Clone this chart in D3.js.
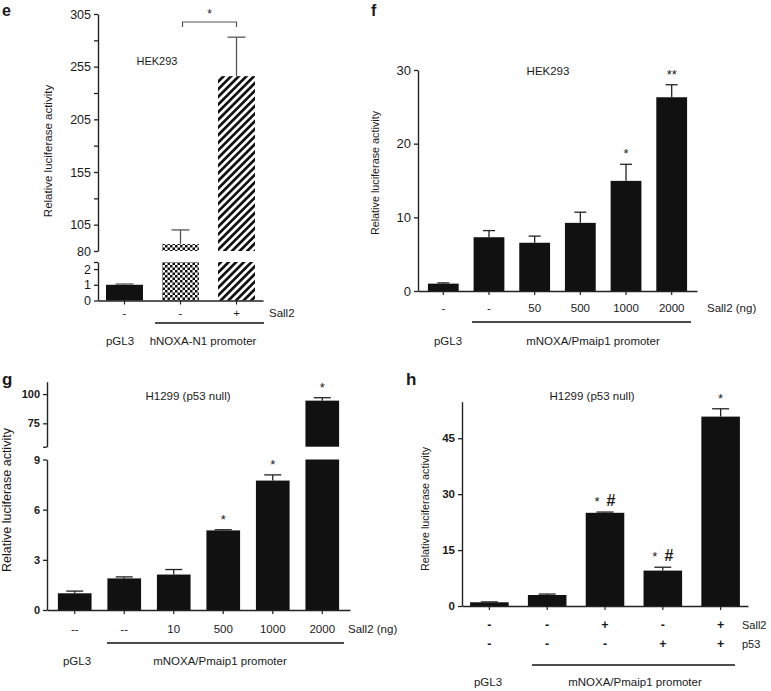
<!DOCTYPE html>
<html><head><meta charset="utf-8">
<script src="https://cdn.jsdelivr.net/npm/d3@7"></script>
<style>
body{margin:0;background:#fff}
text{font-family:Arial,"Liberation Sans",sans-serif;fill:#1a1a1a}
</style>
</head><body>
<svg id="c" width="771" height="691"></svg>
<script>
// ---------------- DATA ----------------
// Panel e (HEK293, hNOXA-N1 promoter)
const eCategories = ["-", "-", "+"];
const eValues = [1.0, 86.6, 246];
const eErrors = [0.05, 13.4, 37];
const eUpperTicks = [80, 105, 130, 155, 180, 205, 230, 255, 280, 305];
const eUpperLabels = [80, 105, 155, 205, 255, 305];
const eLowerTicks = [0, 1, 2];

// Panel f (HEK293, mNOXA/Pmaip1 promoter)
const fCategories = ["-", "-", "50", "500", "1000", "2000"];
const fValues = [1.0, 7.3, 6.55, 9.25, 14.95, 26.3];
const fErrors = [0.1, 0.9, 0.9, 1.45, 2.25, 1.7];
const fSignif = ["", "", "", "", "*", "**"];
const fTicks = [0, 10, 20, 30];

// Panel g (H1299, p53 null)
const gCategories = ["--", "--", "10", "500", "1000", "2000"];
const gValues = [1.0, 1.89, 2.12, 4.76, 7.74, 94.4];
const gErrors = [0.13, 0.09, 0.3, 0.04, 0.34, 2.5];
const gSignif = ["", "", "", "*", "*", "*"];
const gUpperTicks = [75, 100];
const gLowerTicks = [0, 3, 6, 9];

// Panel h (H1299, p53 null)
const hSall2 = ["-", "-", "+", "-", "+"];
const hP53 = ["-", "-", "-", "+", "+"];
const hValues = [1.0, 2.95, 25.0, 9.5, 50.8];
const hErrors = [0.1, 0.25, 0.2, 0.9, 2.1];
const hSignif = ["", "", "* #", "* #", "*"];
const hTicks = [0, 15, 30, 45];

// ---------------- DRAWING ----------------
const svg = d3.select("#c");
const defs = svg.append("defs");
const chk = defs.append("pattern").attr("id","checker").attr("patternUnits","userSpaceOnUse")
  .attr("width",5).attr("height",5);
chk.append("rect").attr("width",5).attr("height",5).attr("fill","#fff");
chk.append("rect").attr("width",2.5).attr("height",2.5).attr("fill","#111");
chk.append("rect").attr("x",2.5).attr("y",2.5).attr("width",2.5).attr("height",2.5).attr("fill","#111");
const hat = defs.append("pattern").attr("id","hatch").attr("patternUnits","userSpaceOnUse")
  .attr("width",5.4).attr("height",10).attr("patternTransform","rotate(45)");
hat.append("rect").attr("width",5.4).attr("height",10).attr("fill","#fff");
hat.append("rect").attr("width",2.7).attr("height",10).attr("fill","#111");

const AX = "#222";

function leftAxis(g, scale, ticks, shown, x, fontSize, bold) {
  const ax = g.append("g").attr("transform", `translate(${x},0)`)
    .call(d3.axisLeft(scale).tickValues(ticks).tickSize(4).tickSizeOuter(0)
      .tickFormat(d => shown.includes(d) ? d : ""));
  ax.select(".domain").attr("stroke", AX).attr("stroke-width", 1.4);
  ax.selectAll(".tick line").attr("stroke", AX).attr("stroke-width", 1.3);
  ax.selectAll(".tick text").attr("font-size", fontSize).attr("font-family", "Arial, 'Liberation Sans', sans-serif")
    .attr("font-weight", bold ? "bold" : "normal").attr("fill", "#1a1a1a").attr("x", -7);
  return ax;
}
function bottomAxis(g, xs, y) {
  const ax = g.append("g").attr("transform", `translate(0,${y})`)
    .call(d3.axisBottom(xs).tickSize(4).tickSizeOuter(0).tickFormat(""));
  ax.select(".domain").attr("stroke", AX).attr("stroke-width", 1.4);
  ax.selectAll(".tick line").attr("stroke", AX).attr("stroke-width", 1.2);
}
function bars(g, vals, errs, xs, segs, fills, capW, errColor) {
  vals.forEach((v, i) => {
    segs.forEach(s => {
      if (v > s.lo) {
        const top = Math.min(v, s.hi);
        g.append("rect").attr("x", xs(i)).attr("width", xs.bandwidth())
          .attr("y", s.scale(top)).attr("height", s.scale(s.lo) - s.scale(top))
          .attr("fill", fills[i]);
      }
    });
    const seg = segs.find(s => v >= s.lo && v <= s.hi);
    const cx = xs(i) + xs.bandwidth() / 2;
    const y0 = seg.scale(v), y1 = seg.scale(v + errs[i]);
    g.append("line").attr("x1", cx).attr("x2", cx).attr("y1", y0).attr("y2", y1)
      .attr("stroke", errColor).attr("stroke-width", 1.3);
    g.append("line").attr("x1", cx - capW / 2).attr("x2", cx + capW / 2).attr("y1", y1).attr("y2", y1)
      .attr("stroke", errColor).attr("stroke-width", 1.3);
  });
}
function sig(g, vals, errs, xs, segs, labels, fs) {
  vals.forEach((v, i) => {
    if (!labels[i]) return;
    const seg = segs.find(s => v >= s.lo && v <= s.hi);
    const cx = xs(i) + xs.bandwidth() / 2;
    const t = g.append("text").attr("x", cx).attr("y", seg.scale(v + errs[i]) - 6)
      .attr("text-anchor", "middle").attr("font-size", fs);
    const parts = labels[i].split(" ");
    parts.forEach((p, k) => {
      const ts = t.append("tspan").text(p);
      if (k > 0) ts.attr("dx", 7).attr("font-size", fs + 3).attr("font-weight", "bold");
    });
  });
}
function txt(g, x, y, s, fs, anchor, weight) {
  return g.append("text").attr("x", x).attr("y", y).attr("font-size", fs)
    .attr("text-anchor", anchor || "middle").attr("font-weight", weight || "normal").text(s);
}
function ylabel(g, x, y, fs) {
  g.append("text").attr("transform", `translate(${x},${y}) rotate(-90)`)
    .attr("text-anchor", "middle").attr("dy", "0.35em").attr("font-size", fs)
    .attr("fill", "#333").text("Relative luciferase activity");
}
function xlabels(g, xs, cats, y, fs, weight) {
  cats.forEach((c, i) => txt(g, xs(i) + xs.bandwidth() / 2, y, c, fs, "middle", weight));
}
function hline(g, x1, x2, y) {
  g.append("line").attr("x1", x1).attr("x2", x2).attr("y1", y).attr("y2", y)
    .attr("stroke", "#111").attr("stroke-width", 1.6);
}

// ===== Panel e =====
const ge = svg.append("g");
const xE = d3.scaleBand().domain(d3.range(eValues.length)).range([98, 263]).paddingInner(0.34).paddingOuter(0.143);
const yEU = d3.scaleLinear().domain([80, 305]).range([251, 14]);
const yEL = d3.scaleLinear().domain([0, 2.45]).range([300.5, 262]);
const eSegs = [{scale: yEL, lo: 0, hi: 2.45}, {scale: yEU, lo: 80, hi: 400}];
bars(ge, eValues, eErrors, xE, eSegs, ["#111", "url(#checker)", "url(#hatch)"], 18, "#555");
leftAxis(ge, yEU, eUpperTicks, eUpperLabels, 98, 12.5, false);
leftAxis(ge, yEL, eLowerTicks.concat([2.45]), eLowerTicks, 98, 12.5, false);
bottomAxis(ge, xE, 300.5);
xlabels(ge, xE, eCategories, 317, 11.5);
txt(ge, 269, 317, "Sall2", 11.5, "start");
hline(ge, xE(1) - 7, xE(2) + xE.bandwidth() + 9, 323);
txt(ge, 120, 345, "pGL3", 11.5);
txt(ge, 203, 345, "hNOXA-N1 promoter", 11.5);
txt(ge, 157, 65, "HEK293", 11);
// bracket
const bx1 = xE(1) + xE.bandwidth() / 2 + 2, bx2 = xE(2) + xE.bandwidth() / 2;
ge.append("path").attr("d", `M${bx1},27V22H${bx2}V27`).attr("fill", "none").attr("stroke", "#555").attr("stroke-width", 1.2);
txt(ge, (bx1 + bx2) / 2, 18, "*", 12);
ylabel(ge, 48, 151, 11.5);
txt(ge, 2, 16, "e", 16, "start", "bold");

// ===== Panel f =====
const gf = svg.append("g");
const xF = d3.scaleBand().domain(d3.range(fValues.length)).range([418, 697]).paddingInner(0.326).paddingOuter(0.217);
const yF = d3.scaleLinear().domain([0, 30]).range([291, 70]);
const fSegs = [{scale: yF, lo: 0, hi: 100}];
bars(gf, fValues, fErrors, xF, fSegs, fValues.map(() => "#111"), 12, "#222");
leftAxis(gf, yF, fTicks, fTicks, 418, 13, false);
bottomAxis(gf, xF, 291);
xlabels(gf, xF, fCategories, 312, 11.5);
txt(gf, 707, 312, "Sall2 (ng)", 11.5, "start");
hline(gf, 472, 691, 322);
txt(gf, 448, 345, "pGL3", 11.5);
txt(gf, 593, 345, "mNOXA/Pmaip1 promoter", 11.5);
txt(gf, 548, 75, "HEK293", 11.5);
sig(gf, fValues, fErrors, xF, fSegs, fSignif, 13);
ylabel(gf, 375, 173, 10.8);
txt(gf, 371, 16, "f", 16, "start", "bold");

// ===== Panel g =====
const gg = svg.append("g");
const xG = d3.scaleBand().domain(d3.range(gValues.length)).range([47, 350]).paddingInner(0.32).paddingOuter(0.22);
const yGU = d3.scaleLinear().domain([55, 110.6]).range([446.7, 381.7]);
const yGL = d3.scaleLinear().domain([0, 9]).range([610, 459.5]);
const gSegs = [{scale: yGL, lo: 0, hi: 9}, {scale: yGU, lo: 55, hi: 200}];
bars(gg, gValues, gErrors, xG, gSegs, gValues.map(() => "#111"), 17, "#222");
leftAxis(gg, yGU, [55].concat(gUpperTicks), gUpperTicks, 47, 11, true);
leftAxis(gg, yGL, gLowerTicks, gLowerTicks, 47, 11, true);
bottomAxis(gg, xG, 610);
xlabels(gg, xG, gCategories, 633, 11.5);
txt(gg, 348, 633, "Sall2 (ng)", 11.5, "start");
hline(gg, 107, 344, 643);
txt(gg, 77, 665, "pGL3", 11.5);
txt(gg, 220, 665, "mNOXA/Pmaip1 promoter", 11.5);
txt(gg, 188, 400, "H1299 (p53 null)", 11.5);
sig(gg, gValues, gErrors, xG, gSegs, gSignif, 13);
ylabel(gg, 7, 500, 12.5);
txt(gg, 2, 385, "g", 17, "start", "bold");

// ===== Panel h =====
const gh = svg.append("g");
const xH = d3.scaleBand().domain(d3.range(hValues.length)).range([462, 748]).paddingInner(0.333).paddingOuter(0.14);
const yH = d3.scaleLinear().domain([0, 54.8]).range([606, 401.7]);
const hSegs = [{scale: yH, lo: 0, hi: 200}];
bars(gh, hValues, hErrors, xH, hSegs, hValues.map(() => "#111"), 17, "#222");
leftAxis(gh, yH, hTicks, hTicks, 462, 11.5, true);
bottomAxis(gh, xH, 606);
xlabels(gh, xH, hSall2, 629, 12.5, "bold");
xlabels(gh, xH, hP53, 648, 12.5, "bold");
txt(gh, 742, 629, "Sall2", 11, "start");
txt(gh, 742, 648, "p53", 11, "start");
hline(gh, 532, 735, 665);
txt(gh, 488, 686, "pGL3", 11.5);
txt(gh, 635, 686, "mNOXA/Pmaip1 promoter", 11.5);
txt(gh, 592, 400, "H1299 (p53 null)", 11.5);
sig(gh, hValues, hErrors, xH, hSegs, hSignif, 13);
ylabel(gh, 425, 509, 10.8);
txt(gh, 406, 385, "h", 17, "start", "bold");
</script>
</body></html>
